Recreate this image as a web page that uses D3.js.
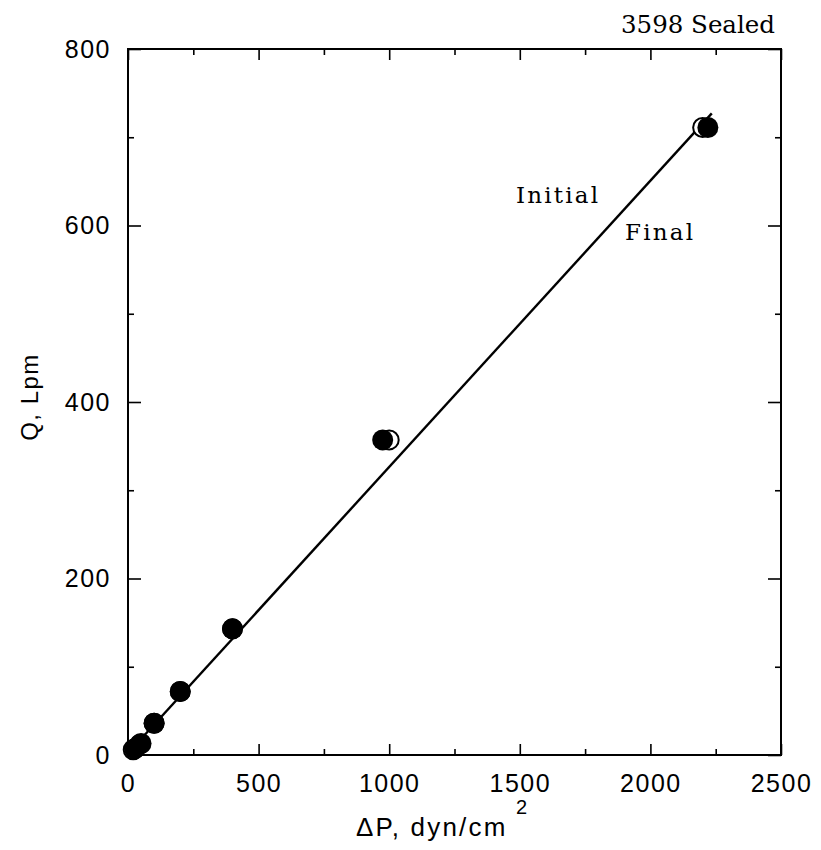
<!DOCTYPE html>
<html>
<head>
<meta charset="utf-8">
<script src="https://cdn.jsdelivr.net/npm/d3@7"></script>
<style>
  html, body { margin: 0; padding: 0; background: #fff; }
  svg { display: block; }
</style>
</head>
<body>
<svg id="chart" width="821" height="850"></svg>
<script>
// ---- data ----
const initialDP = [25, 50, 100, 200, 400, 975, 2220];
const initialQ  = [7, 13, 36, 72, 143, 357, 711];
const finalDP   = [20, 45, 100, 200, 400, 1000, 2200];
const finalQ    = [6, 12, 36, 72, 143, 357, 711];
const fitDP     = [20, 2235];
const fitQ      = [8.5, 727];
const xTicks    = [0, 500, 1000, 1500, 2000, 2500];
const yTicks    = [0, 200, 400, 600, 800];
const xMinor    = [250, 750, 1250, 1750, 2250];
const yMinor    = [100, 300, 500, 700];
const title     = "3598 Sealed";
const seriesLabels = ["Initial", "Final"];

// ---- layout ----
const svg = d3.select("#chart");
const L = 128, R = 781, T = 49, B = 755;
const x = d3.scaleLinear().domain([0, 2500]).range([L, R]);
const y = d3.scaleLinear().domain([0, 800]).range([B, T]);

const tickFont = "'Liberation Sans', Arial, sans-serif";
const serifFont = "'DejaVu Serif', 'Liberation Serif', serif";

// frame
svg.append("rect").attr("x", L).attr("y", T).attr("width", R - L).attr("height", B - T)
  .attr("fill", "none").attr("stroke", "#000").attr("stroke-width", 2);

function styleAxis(g) {
  g.select(".domain").remove();
  g.selectAll(".tick line").attr("stroke", "#000").attr("stroke-width", 1.6);
  g.selectAll(".tick text").attr("font-family", tickFont).attr("font-size", 25)
    .attr("fill", "#000").attr("letter-spacing", 1.5);
}
// bottom
svg.append("g").attr("transform", `translate(0,${B})`)
  .call(d3.axisBottom(x).tickValues(xTicks).tickSizeInner(-11).tickSizeOuter(0).tickPadding(19)
    .tickFormat(d3.format("d")))
  .call(styleAxis);
svg.append("g").attr("transform", `translate(0,${B})`)
  .call(d3.axisBottom(x).tickValues(xMinor).tickSize(-6).tickFormat(""))
  .call(styleAxis);
// top
svg.append("g").attr("transform", `translate(0,${T})`)
  .call(d3.axisTop(x).tickValues(xTicks).tickSize(-11).tickFormat(""))
  .call(styleAxis);
svg.append("g").attr("transform", `translate(0,${T})`)
  .call(d3.axisTop(x).tickValues(xMinor).tickSize(-6).tickFormat(""))
  .call(styleAxis);
// left
svg.append("g").attr("transform", `translate(${L},0)`)
  .call(d3.axisLeft(y).tickValues(yTicks).tickSizeInner(-13).tickSizeOuter(0).tickPadding(17)
    .tickFormat(d3.format("d")))
  .call(styleAxis);
svg.append("g").attr("transform", `translate(${L},0)`)
  .call(d3.axisLeft(y).tickValues(yMinor).tickSize(-6).tickFormat(""))
  .call(styleAxis);
// right
svg.append("g").attr("transform", `translate(${R},0)`)
  .call(d3.axisRight(y).tickValues(yTicks).tickSize(-13).tickFormat(""))
  .call(styleAxis);
svg.append("g").attr("transform", `translate(${R},0)`)
  .call(d3.axisRight(y).tickValues(yMinor).tickSize(-6).tickFormat(""))
  .call(styleAxis);

// fit line
const fit = fitDP.map((d, i) => [d, fitQ[i]]);
svg.append("path").datum(fit)
  .attr("d", d3.line().x(d => x(d[0])).y(d => y(d[1])))
  .attr("fill", "none").attr("stroke", "#000").attr("stroke-width", 2.4);

// open circles (Final)
svg.append("g").selectAll("circle").data(finalDP.map((d, i) => [d, finalQ[i]]))
  .join("circle")
  .attr("cx", d => x(d[0])).attr("cy", d => y(d[1])).attr("r", 9.5)
  .attr("fill", "#fff").attr("stroke", "#000").attr("stroke-width", 2);
// filled circles (Initial)
svg.append("g").selectAll("circle").data(initialDP.map((d, i) => [d, initialQ[i]]))
  .join("circle")
  .attr("cx", d => x(d[0])).attr("cy", d => y(d[1])).attr("r", 10.5)
  .attr("fill", "#000");

// labels
svg.append("text").attr("x", 775).attr("y", 33).attr("text-anchor", "end")
  .attr("font-family", serifFont).attr("font-size", 24.5).attr("fill", "#000")
  .text(title);
svg.append("text").attr("x", 516).attr("y", 203)
  .attr("font-family", serifFont).attr("font-size", 23).attr("fill", "#000")
  .attr("textLength", 82).attr("lengthAdjust", "spacing")
  .text(seriesLabels[0]);
svg.append("text").attr("x", 625).attr("y", 240)
  .attr("font-family", serifFont).attr("font-size", 23).attr("fill", "#000")
  .attr("textLength", 68).attr("lengthAdjust", "spacing")
  .text(seriesLabels[1]);

// axis titles
svg.append("text")
  .attr("transform", `translate(38,${(T + B) / 2 - 5}) rotate(-90)`)
  .attr("text-anchor", "middle")
  .attr("font-family", tickFont).attr("font-size", 24).attr("fill", "#000")
  .attr("letter-spacing", 1.5)
  .text("Q, Lpm");
svg.append("text").attr("x", 356).attr("y", 836)
  .attr("font-family", tickFont).attr("font-size", 26).attr("fill", "#000")
  .attr("letter-spacing", 2.2)
  .text("ΔP, dyn/cm");
svg.append("text").attr("x", 516).attr("y", 814)
  .attr("font-family", tickFont).attr("font-size", 20).attr("fill", "#000")
  .text("2");
</script>
</body>
</html>
